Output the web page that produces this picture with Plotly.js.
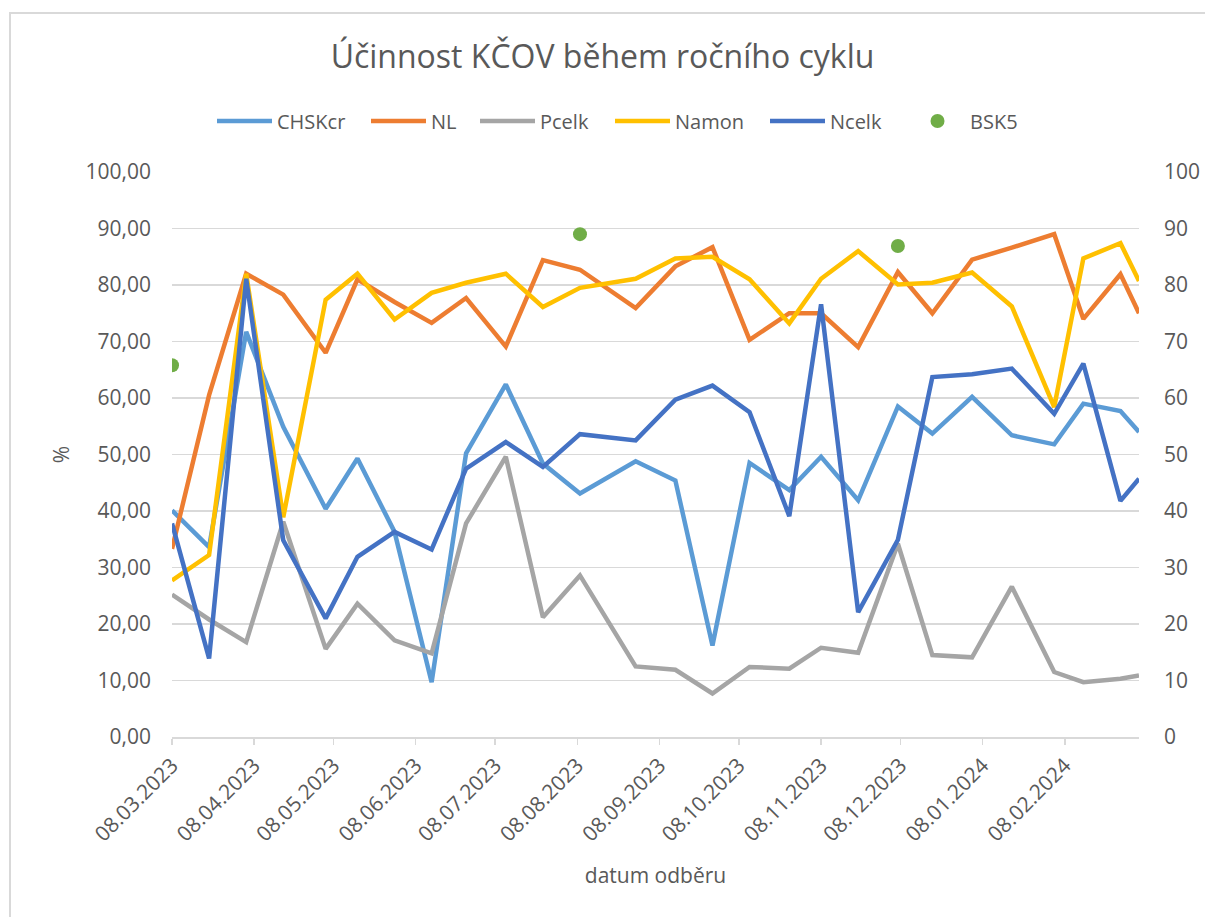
<!DOCTYPE html>
<html>
<head>
<meta charset="utf-8">
<script src="https://cdn.plot.ly/plotly-3.0.1.min.js"></script>
<style>
  html, body { margin: 0; padding: 0; background: #fff; }
  #wrap { position: relative; width: 1205px; height: 917px; }
  #chart { position: absolute; left: 0; top: 0; width: 1205px; height: 917px; }
  #frame { position: absolute; left: 9px; top: 12px; width: 1300px; height: 1000px;
           border-left: 2px solid #D9D9D9; border-top: 2px solid #D9D9D9; pointer-events: none; }
</style>
</head>
<body>
<div id="wrap">
  <div id="chart"></div>
  <div id="frame"></div>
</div>
<script>
const dates = ['2023-03-08','2023-03-22','2023-04-05','2023-04-19','2023-05-05','2023-05-17','2023-05-31',
  '2023-06-14','2023-06-27','2023-07-12','2023-07-26','2023-08-09','2023-08-30','2023-09-14','2023-09-28',
  '2023-10-12','2023-10-27','2023-11-08','2023-11-22','2023-12-07','2023-12-20','2024-01-04','2024-01-19',
  '2024-02-04','2024-02-15','2024-02-29','2024-03-07'];

const CHSKcr = [40.1, 33.6, 71.7, 54.9, 40.4, 49.3, 36.3, 9.7, 50.2, 62.4, 48.4, 43.1, 48.8, 45.4, 16.2,
  48.5, 43.7, 49.6, 41.9, 58.5, 53.7, 60.2, 53.4, 51.8, 59.0, 57.7, 54.0];
const NL = [33.3, 60.5, 82.0, 78.3, 68.0, 81.0, 77.0, 73.3, 77.7, 69.1, 84.4, 82.7, 75.9, 83.3, 86.7,
  70.3, 75.0, 75.0, 69.0, 82.3, 75.0, 84.5, 86.6, 89.0, 74.0, 81.9, 75.0];
const Pcelk = [25.2, 20.8, 16.8, 38.1, 15.6, 23.6, 17.1, 14.8, 37.8, 49.6, 21.2, 28.6, 12.5, 11.9, 7.7,
  12.4, 12.1, 15.8, 14.9, 34.2, 14.5, 14.1, 26.6, 11.5, 9.7, 10.3, 10.9];
const Namon = [27.7, 32.2, 82.0, 38.9, 77.4, 82.0, 73.9, 78.6, 80.4, 82.0, 76.1, 79.5, 81.1, 84.7, 85.0,
  81.0, 73.2, 81.1, 86.0, 80.1, 80.4, 82.2, 76.2, 58.4, 84.7, 87.4, 80.7];
const Ncelk = [37.8, 13.9, 81.1, 34.8, 21.0, 31.9, 36.3, 33.2, 47.5, 52.2, 47.8, 53.6, 52.5, 59.7, 62.2,
  57.5, 39.1, 76.6, 22.1, 34.9, 63.7, 64.2, 65.2, 57.2, 66.1, 41.8, 45.7];
const BSK5 = [65.8, null, null, null, null, null, null, null, null, null, null, 89.0, null, null, null,
  null, null, null, null, 86.9, null, null, null, null, null, null, null];

const leftTicks = [0,10,20,30,40,50,60,70,80,90,100];

const FONT = '"Open Sans", "Noto Sans", sans-serif';
const GREY = '#595959';

// plot area geometry (pixels) used only to place legends
const PL = 172, PW = 967, PB = 737, PH = 565;
const legendY = (PB - 121) / PH;
function legendAt(px) {
  return { orientation: 'h', x: (px - PL) / PW, xanchor: 'left', y: legendY, yanchor: 'middle',
           font: { family: FONT, size: 20, color: GREY }, itemwidth: 55, bgcolor: 'rgba(0,0,0,0)' };
}

function lineTrace(name, y, color, lg) {
  return { type: 'scatter', mode: 'lines', name: name, x: dates, y: y, legend: lg,
           line: { color: color, width: 4.5 }, connectgaps: true };
}

const traces = [
  lineTrace('CHSKcr', CHSKcr, '#5B9BD5', 'legend'),
  lineTrace('NL', NL, '#ED7D31', 'legend2'),
  lineTrace('Pcelk', Pcelk, '#A5A5A5', 'legend3'),
  lineTrace('Namon', Namon, '#FFC000', 'legend4'),
  lineTrace('Ncelk', Ncelk, '#4472C4', 'legend5'),
  { type: 'scatter', mode: 'markers', name: 'BSK5', x: dates, y: BSK5, yaxis: 'y2', legend: 'legend6',
    marker: { color: '#70AD47', size: 14 } }
];

const layout = {
  width: 1205, height: 917,
  margin: { l: PL, r: 66, t: 172, b: 180 },
  paper_bgcolor: '#fff', plot_bgcolor: '#fff',
  separators: ',.',
  font: { family: FONT, color: GREY, size: 20 },
  title: { text: 'Účinnost KČOV během ročního cyklu', font: { family: FONT, size: 32, color: GREY },
           x: 0.5, xanchor: 'center', y: 1 - 57/917, yanchor: 'middle', yref: 'container' },
  showlegend: true,
  legend: legendAt(212),
  legend2: legendAt(366),
  legend3: legendAt(475),
  legend4: legendAt(610),
  legend5: legendAt(765),
  legend6: legendAt(905),
  xaxis: {
    type: 'date', range: ['2023-03-08', '2024-03-07'],
    tick0: '2023-03-08', dtick: 'M1', tickformat: '%d.%m.%Y', tickangle: -45,
    showgrid: false, showline: true, linecolor: '#D9D9D9', linewidth: 2,
    ticks: 'outside', tickcolor: '#D9D9D9', ticklen: 6, tickwidth: 1.5,
    tickfont: { family: FONT, size: 21, color: GREY },
    title: { text: 'datum odběru', font: { family: FONT, size: 21, color: GREY }, standoff: 22 },
    zeroline: false, fixedrange: true
  },
  yaxis: {
    range: [0, 100], tickvals: leftTicks, tickformat: '.2f',
    showgrid: true, gridcolor: '#D9D9D9', gridwidth: 1.5, zeroline: false, showline: false,
    ticks: '', ticklabelstandoff: 20,
    tickfont: { family: FONT, size: 21, color: GREY },
    title: { text: '%', font: { family: FONT, size: 21, color: GREY }, standoff: 10 }
  },
  yaxis2: {
    overlaying: 'y', side: 'right', range: [0, 100], tickvals: leftTicks, tickformat: 'd',
    showgrid: false, zeroline: false, showline: false, ticks: '', ticklabelstandoff: 24,
    tickfont: { family: FONT, size: 21, color: GREY }
  }
};

Plotly.newPlot('chart', traces, layout, { displayModeBar: false, staticPlot: true });
</script>
</body>
</html>
